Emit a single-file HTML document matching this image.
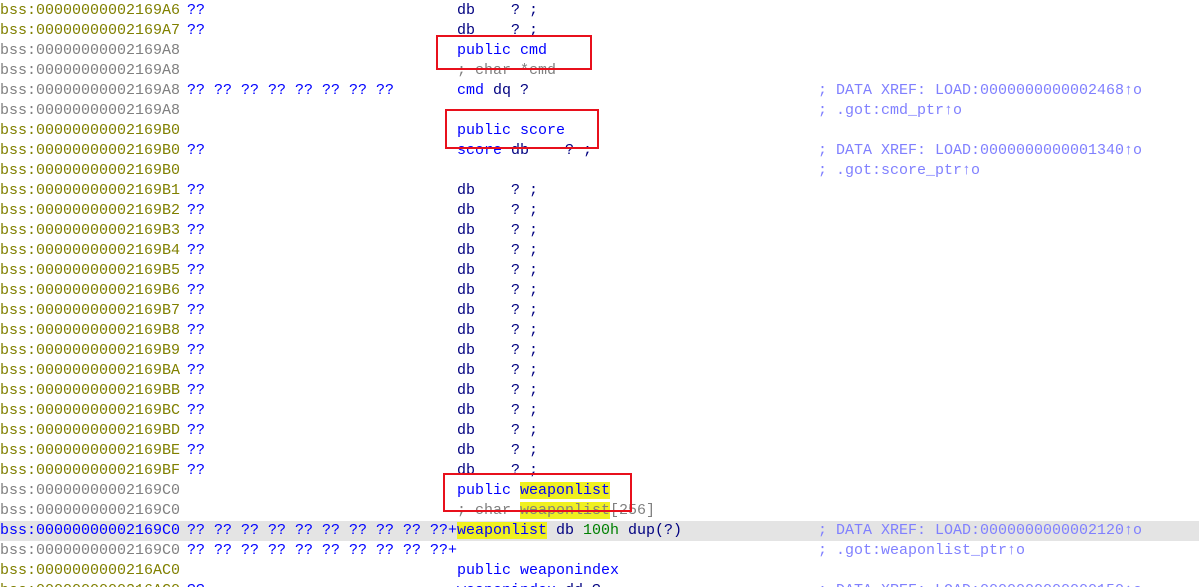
<!DOCTYPE html>
<html><head><meta charset="utf-8"><style>
html,body{margin:0;padding:0;background:#fff;width:1199px;height:587px;overflow:hidden;position:relative}
.r{position:absolute;left:0;width:1199px;height:20px;font-family:"Liberation Mono",monospace;font-size:15px;line-height:20px;white-space:pre}
.r span{position:absolute;top:0}
.a{left:-9px;color:#808000}.g{color:#808080!important}
.b{left:187px;color:#0000ff}
.i{left:457px;color:#000080}
.c{left:818px;color:#8080ff}
.p{color:#0000ff}.cm{color:#808080}.n{color:#008000}
.y{background:#f0f020}
.box{position:absolute;border:2px solid #e8101c;box-sizing:border-box}
</style></head><body>
<div class="r" style="top:1px"><span class="a">.bss:00000000002169A6</span><span class="b">??</span><span class="i">db    ? ;</span></div>
<div class="r" style="top:21px"><span class="a">.bss:00000000002169A7</span><span class="b">??</span><span class="i">db    ? ;</span></div>
<div class="r" style="top:41px"><span class="a g">.bss:00000000002169A8</span><span class="i"><span class="p" style="position:static">public cmd</span></span></div>
<div class="r" style="top:61px"><span class="a g">.bss:00000000002169A8</span><span class="i cm" style="color:#808080">; char *cmd</span></div>
<div class="r" style="top:81px"><span class="a g">.bss:00000000002169A8</span><span class="b">?? ?? ?? ?? ?? ?? ?? ??</span><span class="i"><span class="p" style="position:static">cmd</span> dq ?</span><span class="c">; DATA XREF: LOAD:0000000000002468↑o</span></div>
<div class="r" style="top:101px"><span class="a g">.bss:00000000002169A8</span><span class="c">; .got:cmd_ptr↑o</span></div>
<div class="r" style="top:121px"><span class="a">.bss:00000000002169B0</span><span class="i"><span class="p" style="position:static">public score</span></span></div>
<div class="r" style="top:141px"><span class="a">.bss:00000000002169B0</span><span class="b">??</span><span class="i"><span class="p" style="position:static">score</span> db    ? ;</span><span class="c">; DATA XREF: LOAD:0000000000001340↑o</span></div>
<div class="r" style="top:161px"><span class="a">.bss:00000000002169B0</span><span class="c">; .got:score_ptr↑o</span></div>
<div class="r" style="top:181px"><span class="a">.bss:00000000002169B1</span><span class="b">??</span><span class="i">db    ? ;</span></div>
<div class="r" style="top:201px"><span class="a">.bss:00000000002169B2</span><span class="b">??</span><span class="i">db    ? ;</span></div>
<div class="r" style="top:221px"><span class="a">.bss:00000000002169B3</span><span class="b">??</span><span class="i">db    ? ;</span></div>
<div class="r" style="top:241px"><span class="a">.bss:00000000002169B4</span><span class="b">??</span><span class="i">db    ? ;</span></div>
<div class="r" style="top:261px"><span class="a">.bss:00000000002169B5</span><span class="b">??</span><span class="i">db    ? ;</span></div>
<div class="r" style="top:281px"><span class="a">.bss:00000000002169B6</span><span class="b">??</span><span class="i">db    ? ;</span></div>
<div class="r" style="top:301px"><span class="a">.bss:00000000002169B7</span><span class="b">??</span><span class="i">db    ? ;</span></div>
<div class="r" style="top:321px"><span class="a">.bss:00000000002169B8</span><span class="b">??</span><span class="i">db    ? ;</span></div>
<div class="r" style="top:341px"><span class="a">.bss:00000000002169B9</span><span class="b">??</span><span class="i">db    ? ;</span></div>
<div class="r" style="top:361px"><span class="a">.bss:00000000002169BA</span><span class="b">??</span><span class="i">db    ? ;</span></div>
<div class="r" style="top:381px"><span class="a">.bss:00000000002169BB</span><span class="b">??</span><span class="i">db    ? ;</span></div>
<div class="r" style="top:401px"><span class="a">.bss:00000000002169BC</span><span class="b">??</span><span class="i">db    ? ;</span></div>
<div class="r" style="top:421px"><span class="a">.bss:00000000002169BD</span><span class="b">??</span><span class="i">db    ? ;</span></div>
<div class="r" style="top:441px"><span class="a">.bss:00000000002169BE</span><span class="b">??</span><span class="i">db    ? ;</span></div>
<div class="r" style="top:461px"><span class="a">.bss:00000000002169BF</span><span class="b">??</span><span class="i">db    ? ;</span></div>
<div class="r" style="top:481px"><span class="a g">.bss:00000000002169C0</span><span class="i"><span class="p" style="position:static">public <span class="y" style="position:static">weaponlist</span></span></span></div>
<div class="r" style="top:501px"><span class="a g">.bss:00000000002169C0</span><span class="i" style="color:#808080">; char <span class="y" style="position:static">weaponlist</span>[256]</span></div>
<div class="r" style="top:521px;background:#e4e4e4"><span class="a" style="color:#0000ff">.bss:00000000002169C0</span><span class="b">?? ?? ?? ?? ?? ?? ?? ?? ?? ??+</span><span class="i"><span class="y" style="position:static;color:#0000ff">weaponlist</span> db <span class="n" style="position:static">100h</span> dup(?)</span><span class="c">; DATA XREF: LOAD:0000000000002120↑o</span></div>
<div class="r" style="top:541px"><span class="a g">.bss:00000000002169C0</span><span class="b">?? ?? ?? ?? ?? ?? ?? ?? ?? ??+</span><span class="c">; .got:weaponlist_ptr↑o</span></div>
<div class="r" style="top:561px"><span class="a">.bss:0000000000216AC0</span><span class="i"><span class="p" style="position:static">public weaponindex</span></span></div>
<div class="r" style="top:581px"><span class="a">.bss:0000000000216AC0</span><span class="b">??</span><span class="i"><span class="p" style="position:static">weaponindex</span> dd ?</span><span class="c">; DATA XREF: LOAD:0000000000000150↑o</span></div>
<div class="box" style="left:436px;top:35px;width:156px;height:35px"></div>
<div class="box" style="left:445px;top:109px;width:154px;height:40px"></div>
<div class="box" style="left:443px;top:473px;width:189px;height:39px"></div>
</body></html>
